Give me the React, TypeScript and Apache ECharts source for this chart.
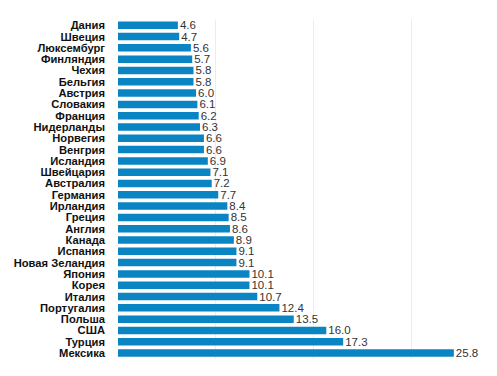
import React, { useEffect, useRef } from "react";
import * as echarts from "echarts";

const categories = [
  "Дания", "Швеция", "Люксембург", "Финляндия", "Чехия", "Бельгия", "Австрия",
  "Словакия", "Франция", "Нидерланды", "Норвегия", "Венгрия", "Исландия",
  "Швейцария", "Австралия", "Германия", "Ирландия", "Греция", "Англия", "Канада",
  "Испания", "Новая Зеландия", "Япония", "Корея", "Италия", "Португалия",
  "Польша", "США", "Турция", "Мексика",
];
const values = [
  4.6, 4.7, 5.6, 5.7, 5.8, 5.8, 6.0, 6.1, 6.2, 6.3, 6.6, 6.6, 6.9, 7.1, 7.2, 7.7,
  8.4, 8.5, 8.6, 8.9, 9.1, 9.1, 10.1, 10.1, 10.7, 12.4, 13.5, 16.0, 17.3, 25.8,
];

export default function App() {
  const ref = useRef<HTMLDivElement>(null);
  useEffect(() => {
    if (!ref.current) return;
    const chart = echarts.init(ref.current, null, { renderer: "svg" });
    chart.setOption({
      animation: false,
      grid: { left: 110, top: 11.6, bottom: 9.3, right: 0, containLabel: false },
      xAxis: {
        type: "value",
        min: 0,
        max: 28.5,
        interval: 7.5,
        axisLabel: { show: false },
        axisLine: { show: false },
        axisTick: { show: false },
        splitLine: {
          show: true,
          showMinLine: false,
          showMaxLine: false,
          lineStyle: { color: "#ececec", width: 1 },
        },
      },
      yAxis: {
        type: "category",
        inverse: true,
        data: categories,
        axisLine: { show: false },
        axisTick: { show: false },
        axisLabel: {
          interval: 0,
          margin: 13,
          color: "#111",
          fontWeight: "bold",
          fontSize: 11.2,
          lineHeight: 11,
          fontFamily: "Liberation Sans, Arial, sans-serif",
        },
      },
      series: [
        {
          type: "bar",
          data: values,
          barWidth: 7.5,
          itemStyle: { color: "#0a84c3" },
          label: {
            show: true,
            position: "right",
            distance: 2,
            formatter: (p: any) => Number(p.value).toFixed(1),
            color: "#333",
            fontSize: 11.5,
            lineHeight: 11,
            fontFamily: "Liberation Sans, Arial, sans-serif",
          },
        },
      ],
    });
    return () => chart.dispose();
  }, []);
  return <div ref={ref} style={{ width: 481, height: 360 }} />;
}
